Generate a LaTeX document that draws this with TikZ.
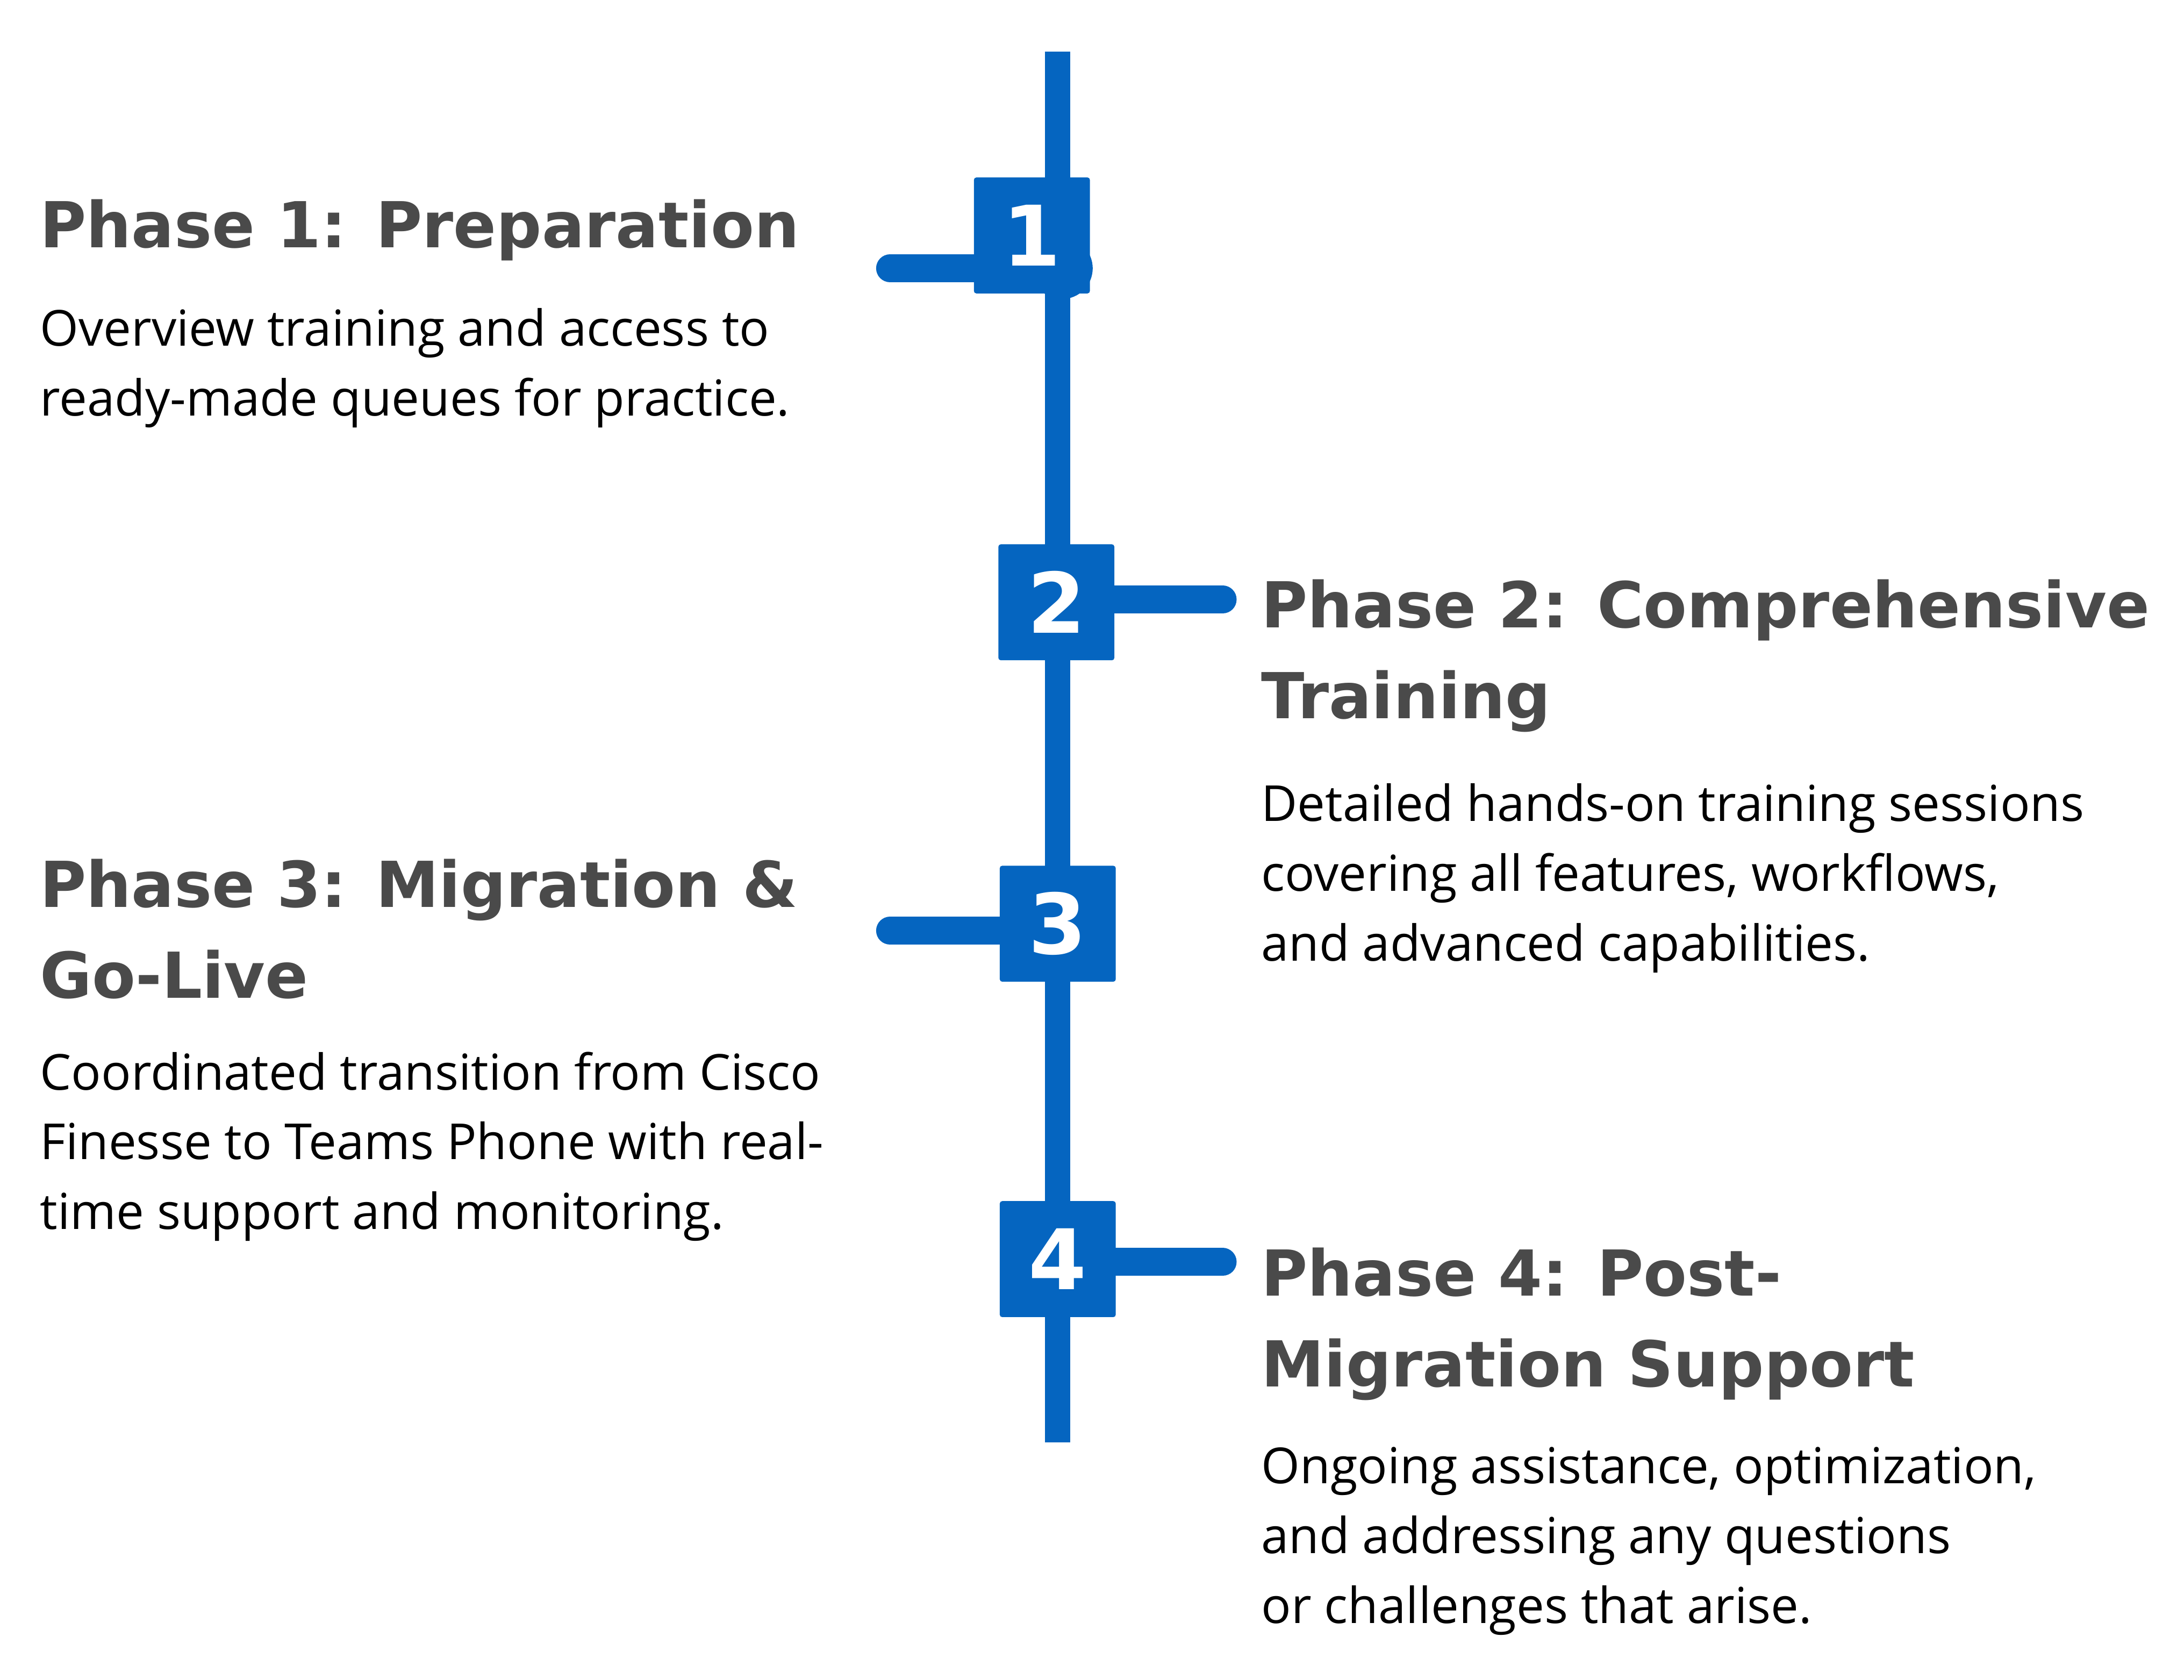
\documentclass[tikz,border=0pt]{standalone}
\usepackage{fontspec}
\setmainfont{Open Sans}
\newfontfamily\headfont{DejaVu Sans}
\usetikzlibrary{positioning}
\definecolor{phaseblue}{HTML}{0565C0}
\definecolor{phasegray}{HTML}{4A4A4A}
\begin{document}
\begin{tikzpicture}[
    numbox/.style={rectangle,fill=phaseblue,minimum size=0.83cm,inner sep=0pt,rounded corners=0.5pt,
      text=white,font=\headfont\bfseries\fontsize{17}{17}\selectfont},
    bar/.style={draw=phaseblue,line width=0.2cm,line cap=round},
    heading/.style={anchor=north west,align=left,inner sep=0pt,text=phasegray,
      font=\headfont\bfseries\fontsize{12.9}{18.5}\selectfont},
    body/.style={anchor=north west,align=left,inner sep=0pt,text=black,
      font=\fontsize{10.1}{14.2}\selectfont}
  ]
    \useasboundingbox (0,0) rectangle (15.63,-12.02);
    % spine
    \draw[draw=phaseblue,line width=0.18cm] (7.57,-0.37) -- (7.57,-10.32);
    % end points of the bars
    \coordinate (e1) at (6.37,-1.92);
    \coordinate (e2) at (8.75,-4.29);
    \coordinate (e3) at (6.37,-6.66);
    \coordinate (e4) at (8.75,-9.03);
    \draw[bar] (e1) -- (7.2,-1.92);
    \fill[phaseblue] (7.6,-1.92) circle (0.22);
    \node[numbox] (b1) at (7.385,-1.685) {1};
    \node[numbox] (b2) at (7.56,-4.31) {2};
    \draw[bar] (e2) -- (b2.east |- e2);
    \node[numbox] (b3) at (7.57,-6.61) {3};
    \draw[bar] (e3) -- (b3.west |- e3);
    \node[numbox] (b4) at (7.57,-9.01) {4};
    \draw[bar] (e4) -- (b4.east |- e4);
    % texts
    \node[heading] (h1) at (0.28,-1.42) {Phase 1: Preparation};
    \node[body] (t1) at (0.28,-2.2) {Overview training and access to\\ready-made queues for practice.};
    \node[heading] (h2) at (9.02,-4.14) {Phase 2: Comprehensive\\Training};
    \node[body] (t2) at (9.02,-5.6) {Detailed hands-on training sessions\\covering all features, workflows,\\and advanced capabilities.};
    \node[heading] (h3) at (0.28,-6.14) {Phase 3: Migration \&\\Go-Live};
    \node[body] (t3) at (0.28,-7.52) {Coordinated transition from Cisco\\Finesse to Teams Phone with real-\\time support and monitoring.};
    \node[heading] (h4) at (9.02,-8.92) {Phase 4: Post-\\Migration Support};
    \node[body] (t4) at (9.02,-10.35) {Ongoing assistance, optimization,\\and addressing any questions\\or challenges that arise.};
\end{tikzpicture}
\end{document}
